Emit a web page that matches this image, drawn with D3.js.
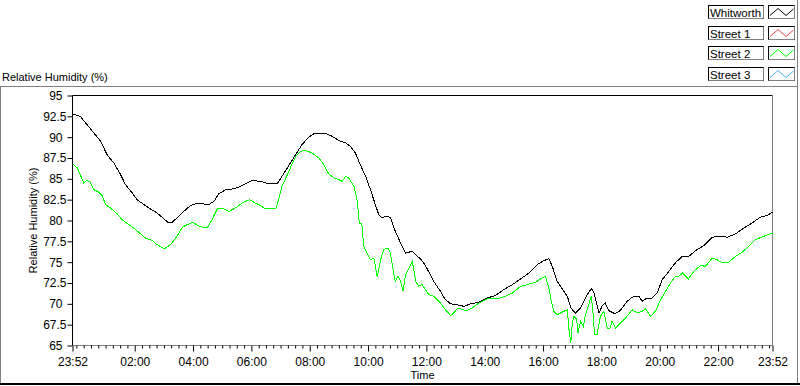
<!DOCTYPE html>
<html><head><meta charset="utf-8">
<script src="https://cdn.jsdelivr.net/npm/d3@7"></script>
<style>
html,body{margin:0;padding:0;background:#fff;}
svg{display:block;font-family:"Liberation Sans",Arial,sans-serif;font-size:11px;}
</style></head><body>
<svg id="chart" width="800" height="386"></svg>
<script>
// ---------- data ----------
const chartTitle = "Relative Humidity (%)";
const yAxisTitle = "Relative Humidity (%)";
const xAxisTitle = "Time";
const seriesNames = ["Whitworth", "Street 1", "Street 2", "Street 3"];
const seriesColors = ["#000000", "#f04848", "#00ff00", "#48b0f0"];

const whitworthTimes = ["23:52","00:08","00:22","00:36","00:50","01:03","01:17","01:31","01:41","01:55",
"02:05","02:19","02:32","02:46","03:00","03:08","03:17","03:27","03:41","03:55",
"04:05","04:19","04:32","04:43","04:53","05:07","05:24","05:38","05:48","06:02",
"06:19","06:36","06:53","07:03","07:17","07:31","07:44","07:58","08:08","08:32",
"08:46","09:00","09:14","09:24","09:34","09:44","09:55","10:05","10:15","10:22",
"10:29","10:36","10:46","10:56","11:07","11:17","11:31","11:41","11:48","11:58",
"12:15","12:29","12:39","12:50","13:03","13:17","13:31","13:48","14:05","14:22",
"14:39","14:57","15:14","15:31","15:48","16:02","16:12","16:19","16:29","16:43",
"16:50","16:57","17:07","17:17","17:31","17:39","17:44","17:51","17:55","18:02",
"18:08","18:15","18:28","18:39","18:53","19:03","19:17","19:24","19:31","19:44",
"19:55","20:05","20:19","20:32","20:46","21:00","21:14","21:31","21:48","22:02",
"22:19","22:36","22:53","23:10","23:27","23:41","23:52"];
const whitworthRH = [92.8,92.5,91.5,90.5,89.5,87.9,86.9,85.5,84.3,83.3,
82.5,81.9,81.4,80.9,80.2,79.8,79.8,80.3,81.1,81.8,
82.0,82.0,81.9,82.3,83.2,83.7,83.8,84.1,84.4,84.8,
84.7,84.4,84.4,85.3,86.6,87.9,89.1,90.0,90.4,90.5,
90.1,89.6,89.3,88.9,88.1,86.7,85.3,83.7,81.9,80.7,
80.3,80.5,80.4,78.7,77.3,76.1,76.3,75.7,75.4,74.6,
72.7,71.5,70.5,70.0,69.9,69.7,70.0,70.2,70.7,71.0,
71.7,72.3,73.0,73.7,74.7,75.2,75.4,74.5,72.7,71.5,
70.9,69.5,68.9,69.5,71.1,71.8,71.5,69.9,68.9,69.8,
70.1,69.2,68.8,69.2,70.3,70.8,70.9,70.3,70.6,70.7,
71.3,72.9,73.9,74.9,75.7,75.7,76.4,77.0,78.0,78.1,
78.0,78.4,79.1,79.7,80.4,80.6,81.0];

const street2Times = ["23:52","00:02","00:08","00:15","00:21","00:28","00:36","00:46","00:53","01:00",
"01:10","01:24","01:34","01:48","02:02","02:12","02:22","02:36","02:46","03:01",
"03:14","03:27","03:38","03:48","04:00","04:09","04:19","04:30","04:39","04:50",
"05:03","05:14","05:27","05:41","05:56","06:08","06:19","06:26","06:39","06:50",
"06:56","07:03","07:14","07:20","07:31","07:41","07:51","08:05","08:19","08:29",
"08:39","08:50","09:00","09:07","09:14","09:20","09:31","09:38","09:42","09:47",
"09:51","09:58","10:05","10:12","10:19","10:26","10:32","10:41","10:46","10:52",
"10:56","11:02","11:07","11:12","11:17","11:24","11:31","11:38","11:44","11:51",
"11:58","12:05","12:15","12:29","12:39","12:50","12:56","13:05","13:14","13:24",
"13:34","13:48","14:05","14:26","14:43","14:57","15:14","15:27","15:45","15:55",
"16:05","16:12","16:17","16:22","16:29","16:36","16:43","16:50","16:53","16:57",
"17:00","17:03","17:09","17:12","17:17","17:23","17:27","17:34","17:39","17:42",
"17:46","17:51","17:58","18:05","18:12","18:17","18:22","18:29","18:36","18:46",
"18:56","19:03","19:14","19:24","19:31","19:41","19:51","20:02","20:12","20:22",
"20:32","20:39","20:47","20:59","21:10","21:24","21:34","21:48","21:58","22:09",
"22:22","22:36","22:50","23:03","23:17","23:34","23:52"];
const street2RH = [86.8,86.3,85.5,84.5,84.8,84.6,83.7,83.4,83.0,81.9,
81.5,80.8,80.1,79.5,78.9,78.4,77.9,77.6,77.1,76.6,
77.1,78.1,79.2,79.5,79.8,79.4,79.2,79.2,80.1,81.4,
81.4,81.1,81.5,82.1,82.5,82.1,81.8,81.5,81.5,81.4,
82.5,84.1,85.5,86.3,87.7,88.3,88.4,88.1,87.5,86.7,
85.6,85.1,84.9,84.7,85.3,85.1,84.1,82.3,79.7,79.7,
76.9,76.1,75.3,75.5,73.2,75.3,76.5,76.7,76.1,73.9,
72.7,73.3,72.7,71.5,73.5,74.3,75.1,72.7,72.1,72.3,
71.7,71.1,70.9,70.1,69.3,68.6,68.9,69.5,69.3,69.2,
69.5,70.1,70.6,70.6,70.9,71.3,72.1,72.3,72.6,73.0,
73.3,71.9,70.3,69.1,68.7,68.9,69.1,69.3,67.1,65.3,
67.5,68.5,68.2,66.5,67.9,67.3,68.7,69.9,70.9,69.5,
66.3,66.3,68.5,69.1,67.1,67.0,67.9,67.1,67.5,68.1,
68.7,69.3,68.9,69.1,69.4,68.5,69.1,70.5,71.5,72.5,
73.3,73.3,73.7,73.0,73.9,74.6,74.5,75.5,75.3,74.9,
75.0,75.7,76.2,76.9,77.7,78.1,78.5];

const yTickValues = [65, 67.5, 70, 72.5, 75, 77.5, 80, 82.5, 85, 87.5, 90, 92.5, 95];
const xTickLabels = ["23:52","02:00","04:00","06:00","08:00","10:00","12:00","14:00","16:00","18:00","20:00","22:00","23:52"];
const minorTickMinutes = 15;

// ---------- helpers ----------
// the record starts at 23:52 on day 0; every later clock time belongs to day 1
function parseClock(s, i) {
  const [h, m] = s.split(":").map(Number);
  return new Date(2020, 0, (i === 0 && h === 23) ? 1 : 2, h, m);
}
const toPoints = (times, vals) => times.map((t, i) => ({t: parseClock(t, i), v: vals[i]}));
const whitworth = toPoints(whitworthTimes, whitworthRH);
const street2 = toPoints(street2Times, street2RH);
const xMajor = xTickLabels.map(parseClock);

// ---------- layout ----------
const svg = d3.select("#chart");
const L = 72.5, R = 772.5, T = 95.5, B = 345.5;
const x = d3.scaleTime().domain([xMajor[0], xMajor[xMajor.length - 1]]).range([L, R]);
const y = d3.scaleLinear().domain([65, 95]).range([B, T]);

svg.append("rect").attr("width", 800).attr("height", 386).attr("fill", "#fff");

// outer frame
svg.append("line").attr("x1", 0).attr("x2", 798).attr("y1", 86.5).attr("y2", 86.5).attr("stroke", "#808080");
svg.append("line").attr("x1", 0.5).attr("x2", 0.5).attr("y1", 86).attr("y2", 384).attr("stroke", "#808080");
svg.append("line").attr("x1", 797.5).attr("x2", 797.5).attr("y1", 0).attr("y2", 384).attr("stroke", "#808080");
svg.append("line").attr("x1", 0).attr("x2", 800).attr("y1", 384).attr("y2", 384).attr("stroke", "#000").attr("stroke-width", 2);

// title
svg.append("text").attr("x", 2).attr("y", 81).attr("fill", "#000").text(chartTitle);

// plot borders
svg.append("line").attr("x1", L).attr("x2", R).attr("y1", T).attr("y2", T).attr("stroke", "#000");
svg.append("line").attr("x1", L).attr("x2", L).attr("y1", T).attr("y2", B).attr("stroke", "#000");
svg.append("line").attr("x1", R).attr("x2", R).attr("y1", T).attr("y2", B).attr("stroke", "#808080");
svg.append("line").attr("x1", L).attr("x2", R).attr("y1", B).attr("y2", B).attr("stroke", "#808080");

// y axis
const yAxis = svg.append("g").attr("transform", `translate(${L},0)`)
  .call(d3.axisLeft(y).tickValues(yTickValues).tickSize(5).tickSizeOuter(0).tickFormat(d => String(d)));
yAxis.select(".domain").remove();
yAxis.selectAll(".tick line").attr("stroke", "#000");
yAxis.selectAll(".tick text").attr("fill", "#000").attr("font-size", 12)
  .attr("x", d => Number.isInteger(d) ? -10 : -6);
yAxis.attr("font-family", null).attr("font-size", null);

// x axis minor ticks
const minorTicks = d3.timeMinute.every(minorTickMinutes).range(x.domain()[0], x.domain()[1])
  .filter(d => !xMajor.some(m => +m === +d));
const xMinor = svg.append("g").attr("transform", `translate(0,${B})`)
  .call(d3.axisBottom(x).tickValues(minorTicks).tickSize(3).tickSizeOuter(0).tickFormat(""));
xMinor.select(".domain").remove();
xMinor.selectAll(".tick line").attr("stroke", "#000");

// x axis major ticks
const xAxis = svg.append("g").attr("transform", `translate(0,${B})`)
  .call(d3.axisBottom(x).tickValues(xMajor).tickSize(6).tickSizeOuter(0)
    .tickFormat((d, i) => xTickLabels[i]));
xAxis.select(".domain").remove();
xAxis.selectAll(".tick line").attr("stroke", "#000");
xAxis.selectAll(".tick text").attr("fill", "#000").attr("font-size", 12).attr("y", 20.5).attr("dy", 0);
xAxis.attr("font-family", null).attr("font-size", null);

// axis titles
svg.append("text").attr("x", (L + R) / 2).attr("y", 379).attr("text-anchor", "middle").attr("fill", "#000").text(xAxisTitle);
svg.append("text").attr("transform", `translate(37,${(T + B) / 2}) rotate(-90)`)
  .attr("text-anchor", "middle").attr("fill", "#000").text(yAxisTitle);

// series
const line = d3.line().x(d => x(d.t)).y(d => y(d.v));
svg.append("path").datum(whitworth).attr("d", line).attr("fill", "none")
  .attr("stroke", seriesColors[0]).attr("stroke-width", 1).attr("shape-rendering", "crispEdges");
svg.append("path").datum(street2).attr("d", line).attr("fill", "none")
  .attr("stroke", seriesColors[2]).attr("stroke-width", 1).attr("shape-rendering", "crispEdges");

// legend
const leg = svg.append("g");
seriesNames.forEach((name, i) => {
  const top = 5.5 + Math.round(i * 20.6);
  const g = leg.append("g").attr("transform", `translate(0,${top})`);
  g.append("rect").attr("x", 708.5).attr("y", 0).attr("width", 55).attr("height", 13)
    .attr("fill", "#fff").attr("stroke", "#000");
  g.append("polyline").attr("points", "708.5,13 763.5,13 763.5,0").attr("fill", "none").attr("stroke", "#808080");
  g.append("text").attr("x", 710).attr("y", 11).attr("fill", "#000").attr("font-size", 11.5).text(name);
  g.append("rect").attr("x", 768.5).attr("y", 0).attr("width", 26).attr("height", 13)
    .attr("fill", "#fff").attr("stroke", "#000");
  g.append("polyline").attr("points", "768.5,13 794.5,13 794.5,0").attr("fill", "none").attr("stroke", "#808080");
  g.append("polyline").attr("points", "770,10 778,3 786,10 793.5,3.5")
    .attr("fill", "none").attr("stroke", seriesColors[i]).attr("stroke-width", 1);
});
</script>
</body></html>
